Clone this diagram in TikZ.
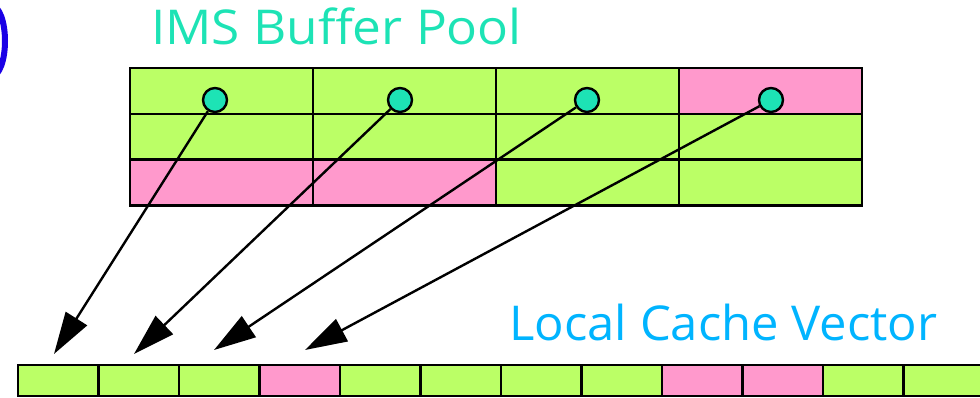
\documentclass[tikz,border=0pt]{standalone}
\usepackage{fontspec}
\setmainfont{Open Sans}
\usepackage{xcolor}
\usetikzlibrary{positioning, arrows.meta}

\definecolor{lime}{HTML}{BBFF66}
\definecolor{rosa}{HTML}{FF99CC}
\definecolor{teal1}{HTML}{1DE3B5}
\definecolor{skyb}{HTML}{00B4FF}
\definecolor{ink}{HTML}{1A00E6}

\begin{document}
\begin{tikzpicture}[x=1pt, y=-1pt, >={Triangle[length=42pt,width=25pt]},
  cell/.style={draw, line width=2.8pt, fill=lime, inner sep=0pt, minimum width=183pt, minimum height=46pt},
  vcell/.style={draw, line width=2.8pt, fill=lime, inner sep=0pt, minimum width=80.5pt, minimum height=31pt},
  dot/.style={circle, draw, line width=2.4pt, fill=teal1, inner sep=0pt, minimum size=24pt},
  title/.style={font=\fontsize{48}{50}\selectfont, anchor=base}]
\useasboundingbox (0,0) rectangle (980,398);

% Marca
\draw[ink, line width=6pt] (-8,41) ellipse [x radius=13, y radius=35];

% Buffer pool
\foreach \fc [count=\c] in {lime,lime,lime,rosa}
  \node[cell, fill=\fc] (b1\c) at ({221.5+183*(\c-1)},91) {};
\foreach \fc [count=\c] in {lime,lime,lime,lime}
  \node[cell, fill=\fc] (b2\c) at ({221.5+183*(\c-1)},137) {};
\foreach \fc [count=\c] in {rosa,rosa,lime,lime}
  \node[cell, fill=\fc] (b3\c) at ({221.5+183*(\c-1)},182.5) {};
\node[title, text=teal1, xscale=1.07] (pool) at (336.5,45) {IMS Buffer Pool};

% Vector
\foreach \fc [count=\i] in {lime,lime,lime,rosa,lime,lime,lime,lime,rosa,rosa,lime,lime}
  \node[vcell, fill=\fc] (v\i) at ({58.25+80.5*(\i-1)},380.5) {};
\node[title, text=skyb, xscale=1.02] (vec) at (723.5,340) {Local Cache Vector};

% Punteros
\foreach \dx [count=\c] in {-6.5,-4.5,-0.5,0.5}
  \node[dot] (d\c) at ([xshift=\dx pt, yshift=-9pt]b1\c.center) {};
\coordinate (t1) at (54,354);
\coordinate (t2) at (134,354);
\coordinate (t3) at (214,350);
\coordinate (t4) at (305,350);
\foreach \c in {1,...,4}
  \draw[->, line width=2.4pt] (d\c) -- (t\c);
\end{tikzpicture}
\end{document}
